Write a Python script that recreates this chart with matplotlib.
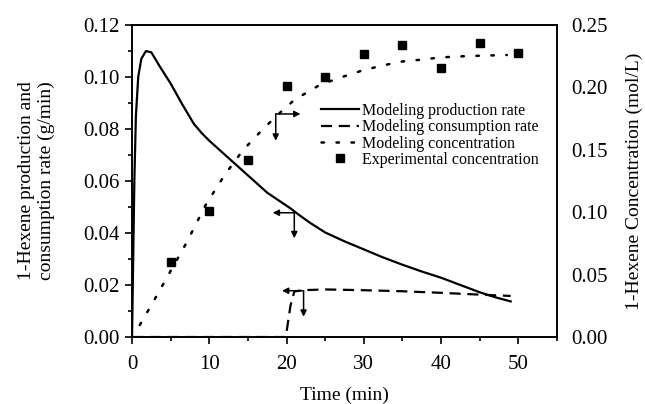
import matplotlib
matplotlib.use("Agg")
import matplotlib.pyplot as plt
from matplotlib.ticker import MultipleLocator, FormatStrFormatter
from matplotlib.lines import Line2D

plt.rcParams['font.family'] = ['Liberation Serif', 'DejaVu Serif']

# Modeling production rate (g/min)
prod_t = [0, 0.15, 0.3, 0.5, 0.8, 1.2, 1.8, 2.5, 3.5, 5, 6.5, 8, 9, 10, 11.5, 13,
          14.5, 16, 17.5, 18.5, 19.5, 20.5, 21.5, 23, 25, 27.5, 30, 32.5, 35, 37.5,
          40, 42.5, 45, 47, 49]
prod_y = [0, 0.030, 0.060, 0.085, 0.100, 0.107, 0.110, 0.1095, 0.1045, 0.0975,
          0.0895, 0.0820, 0.0785, 0.0755, 0.0715, 0.0675, 0.0635, 0.0595, 0.0555,
          0.0535, 0.0515, 0.0495, 0.0472, 0.0440, 0.0402, 0.0368, 0.0337, 0.0306,
          0.0278, 0.0252, 0.0228, 0.0200, 0.0172, 0.0153, 0.0137]

# Modeling consumption rate (g/min)
cons_t = [0, 19.9, 20.2, 20.5, 21, 22, 25, 30, 35, 40, 45, 49]
cons_y = [0, 0, 0.006, 0.012, 0.0175, 0.0180, 0.0183, 0.0180, 0.0176, 0.0170, 0.0163, 0.0158]

# Modeling concentration (mol/L)
conc_t = [1, 3, 5, 7, 9.6, 12, 14.4, 17, 19.2, 21, 24.3, 27, 29.5, 32, 34.7, 37,
          39.9, 42, 45, 48.5]
conc_y = [0.0096, 0.031, 0.053, 0.075, 0.1066, 0.130, 0.150, 0.167, 0.180, 0.190,
          0.202, 0.208, 0.213, 0.217, 0.2206, 0.222, 0.224, 0.2248, 0.2254, 0.226]

# Experimental concentration (mol/L)
exp_t = [5, 10, 15, 20, 25, 30, 35, 40, 45, 50]
exp_y = [0.0598, 0.101, 0.142, 0.201, 0.2086, 0.2268, 0.234, 0.2158, 0.2353, 0.228]

labels = ["Modeling production rate", "Modeling consumption rate",
          "Modeling concentration", "Experimental concentration"]

fig = plt.figure(figsize=(6.45, 4.04), dpi=100)
ax = fig.add_axes([0.2047, 0.1658, 0.6589, 0.7722])
ax2 = ax.twinx()

ax.plot(prod_t, prod_y, color='black', lw=1.6, solid_joinstyle='round')
ax.plot(cons_t, cons_y, color='black', lw=1.6, linestyle=(0, (5, 3)))
ax2.plot(conc_t, conc_y, color='black', lw=1.8, linestyle=(0, (1, 5)), dash_capstyle='round')
ax2.plot(exp_t, exp_y, linestyle='none', marker='s', color='black', markersize=5.5)

ax.set_xlim(0, 55)
ax.set_ylim(0, 0.12)
ax2.set_ylim(0, 0.25)

ax.xaxis.set_major_locator(MultipleLocator(10))
ax.xaxis.set_minor_locator(MultipleLocator(5))
ax.yaxis.set_major_locator(MultipleLocator(0.02))
ax.yaxis.set_minor_locator(MultipleLocator(0.01))
ax.yaxis.set_major_formatter(FormatStrFormatter('%.2f'))
ax2.yaxis.set_major_locator(MultipleLocator(0.05))
ax2.yaxis.set_major_formatter(FormatStrFormatter('%.2f'))

ax.tick_params(axis='both', which='major', direction='out', length=5, width=1.2,
               labelsize=15, pad=4)
ax.tick_params(axis='both', which='minor', direction='out', length=3, width=1.2)
ax.tick_params(axis='x', which='major', pad=8)
ax2.tick_params(axis='y', which='both', length=0, labelsize=15, pad=10)

for a in (ax, ax2):
    for s in a.spines.values():
        s.set_linewidth(1.2)

ax.set_xlabel("Time (min)", fontsize=14, labelpad=9)
ax.set_ylabel("1-Hexene production and\nconsumption rate (g/min)", fontsize=14,
              labelpad=20, linespacing=1.2)
ax2.set_ylabel("1-Hexene Concentration (mol/L)", fontsize=14, labelpad=13)

# Direction arrows
arrow_kw = dict(arrowstyle='-|>', lw=1.1, color='black', mutation_scale=9,
                shrinkA=0, shrinkB=0)
corners = [(18.6, 0.0858, 21.8, 0.0755), (21.0, 0.0478, 18.2, 0.038),
           (22.2, 0.0178, 19.4, 0.0078)]
for cx, cy, hx, vy in corners:
    ax2.annotate('', xy=(hx, cy), xytext=(cx, cy), xycoords=ax.transData,
                 textcoords=ax.transData, arrowprops=arrow_kw)
    ax2.annotate('', xy=(cx, vy), xytext=(cx, cy), xycoords=ax.transData,
                 textcoords=ax.transData, arrowprops=arrow_kw)

handles = [Line2D([], [], color='black', lw=1.6),
           Line2D([], [], color='black', lw=1.6, linestyle=(0, (5, 3))),
           Line2D([], [], color='black', lw=1.8, linestyle=(0, (1, 5)), dash_capstyle='round'),
           Line2D([], [], color='black', marker='s', linestyle='none', markersize=5.5)]
leg = ax2.legend(handles, labels, loc='upper left', bbox_to_anchor=(0.445, 0.75),
                 frameon=False, fontsize=11.5, handlelength=2.4, handletextpad=0.15,
                 labelspacing=0.02, borderpad=0, borderaxespad=0)

fig.savefig("out.png", dpi=100)
